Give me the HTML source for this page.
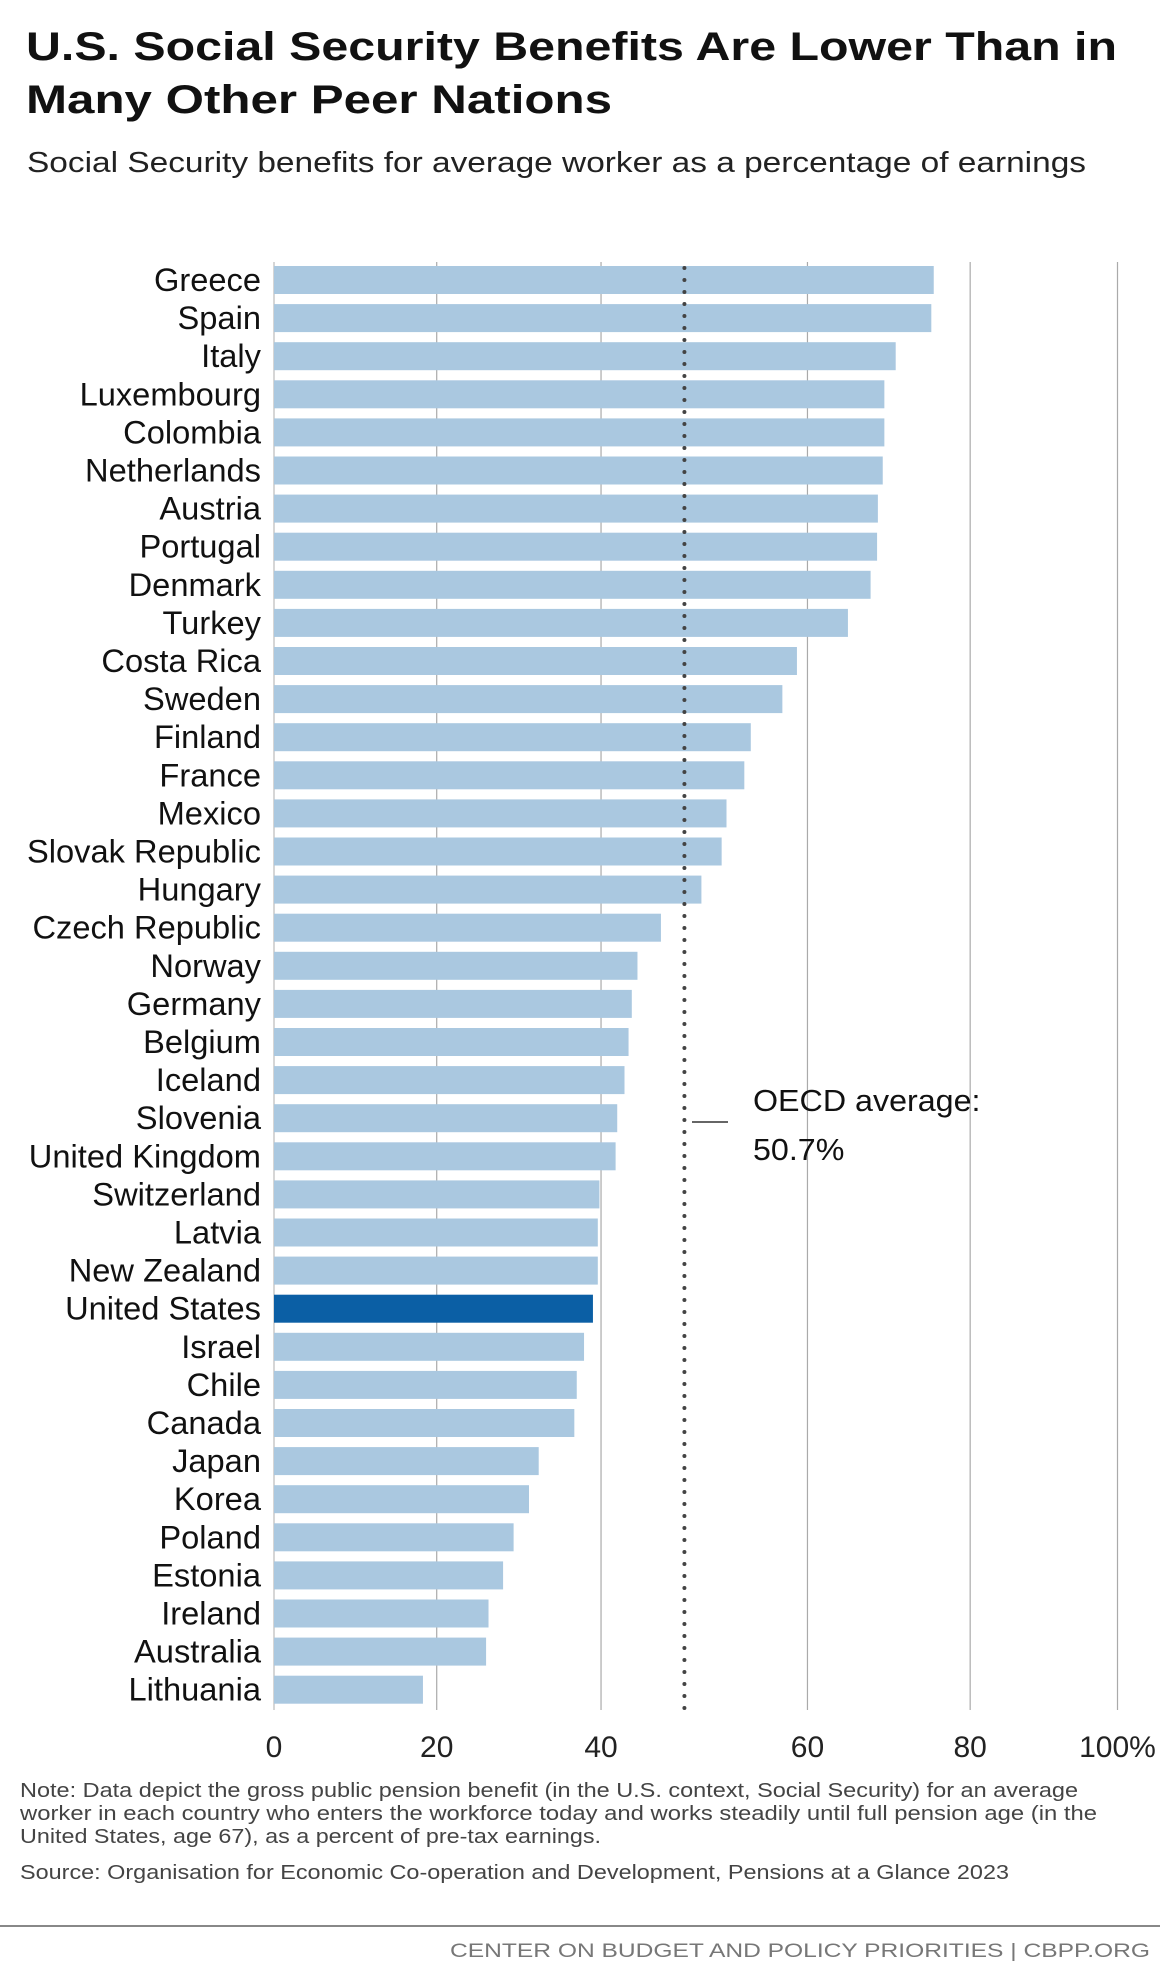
<!DOCTYPE html>
<html><head><meta charset="utf-8"><style>
body{margin:0;background:#fff;width:1160px;height:1977px;overflow:hidden;font-family:"Liberation Sans",sans-serif}
</style></head><body>
<svg id="c" width="1160" height="1977" xmlns="http://www.w3.org/2000/svg">
<text x="26" y="60" font-size="40" font-weight="bold" fill="#111" textLength="1091" lengthAdjust="spacingAndGlyphs">U.S. Social Security Benefits Are Lower Than in</text>
<text x="26" y="113" font-size="40" font-weight="bold" fill="#111" textLength="586" lengthAdjust="spacingAndGlyphs">Many Other Peer Nations</text>
<text x="27" y="172" font-size="29" fill="#222" textLength="1059" lengthAdjust="spacingAndGlyphs">Social Security benefits for average worker as a percentage of earnings</text>
<g id="grid"></g><g id="bars"></g><g id="labels"></g><g id="ticks"></g>
<line x1="692" x2="728" y1="1122" y2="1122" stroke="#333" stroke-width="1.5"/>
<text x="753" y="1111" font-size="31" fill="#111" transform="translate(753 0) scale(1.04 1) translate(-753 0)">OECD average:</text>
<text x="753" y="1160" font-size="31" fill="#111" transform="translate(753 0) scale(1.04 1) translate(-753 0)">50.7%</text>
<text x="20" y="1797" font-size="20" fill="#444" textLength="1058" lengthAdjust="spacingAndGlyphs">Note: Data depict the gross public pension benefit (in the U.S. context, Social Security) for an average</text>
<text x="20" y="1820" font-size="20" fill="#444" textLength="1077" lengthAdjust="spacingAndGlyphs">worker in each country who enters the workforce today and works steadily until full pension age (in the</text>
<text x="20" y="1843" font-size="20" fill="#444" textLength="581" lengthAdjust="spacingAndGlyphs">United States, age 67), as a percent of pre-tax earnings.</text>
<text x="20" y="1879" font-size="20" fill="#444" textLength="989" lengthAdjust="spacingAndGlyphs">Source: Organisation for Economic Co-operation and Development, Pensions at a Glance 2023</text>
<line x1="0" x2="1160" y1="1926" y2="1926" stroke="#888" stroke-width="2"/>
<text x="450" y="1957" font-size="19" fill="#777" textLength="700" lengthAdjust="spacingAndGlyphs">CENTER ON BUDGET AND POLICY PRIORITIES | CBPP.ORG</text>
</svg>
<script>
const countries=["Greece","Spain","Italy","Luxembourg","Colombia","Netherlands","Austria","Portugal","Denmark","Turkey","Costa Rica","Sweden","Finland","France","Mexico","Slovak Republic","Hungary","Czech Republic","Norway","Germany","Belgium","Iceland","Slovenia","United Kingdom","Switzerland","Latvia","New Zealand","United States","Israel","Chile","Canada","Japan","Korea","Poland","Estonia","Ireland","Australia","Lithuania"];
const values=[81.5,81.2,76.8,75.4,75.4,75.2,74.6,74.5,73.7,70.9,64.6,62.8,58.9,58.1,55.9,55.3,52.8,47.8,44.9,44.2,43.8,43.3,42.4,42.2,40.2,40.0,40.0,39.4,38.3,37.4,37.1,32.7,31.5,29.6,28.3,26.5,26.2,18.4];
const tickLabels=["0","20","40","60","80","100%"];
const tickAt=[0,20.1,40.4,65.9,86,104.2];
const oecdAvg=50.7;
const NS="http://www.w3.org/2000/svg";
const x0=274,k=8.095,yTop=280,step=38.1,bh=28;
const xs=v=>x0+v*k, ys=i=>yTop+i*step;
function mk(t,a,p){const e=document.createElementNS(NS,t);for(const n in a)e.setAttribute(n,a[n]);document.getElementById(p).appendChild(e);return e;}
tickLabels.forEach((t,i)=>{
  const x=xs(tickAt[i]);
  const g=mk("line",{x1:x,x2:x,y1:262,y2:1710,stroke:i==0?"#bbb":"#aaa","stroke-width":1.2},"grid");
  
  
  const tx=mk("text",{x:x,y:1757,"font-size":30,fill:"#222","text-anchor":"middle"},"ticks");
  tx.textContent=t;
  
  
});
countries.forEach((c,i)=>{
  const yc=ys(i);
  const r=mk("rect",{x:x0,y:yc-bh/2,width:values[i]*k,height:bh,fill:c=="United States"?"#0b5fa5":"#aac8e0"},"bars");
  
  
  const t=mk("text",{x:261,y:yc+11,"font-size":32,fill:"#111","text-anchor":"end",transform:`translate(261 0) scale(1.02 1) translate(-261 0)`},"labels");
  t.textContent=c;
  
  
});
const ox=xs(oecdAvg);
const d=mk("line",{x1:ox,x2:ox,y1:268,y2:1716,stroke:"#444","stroke-width":4,"stroke-linecap":"round","stroke-dasharray":"0 12"},"bars");


</script>
</body></html>
